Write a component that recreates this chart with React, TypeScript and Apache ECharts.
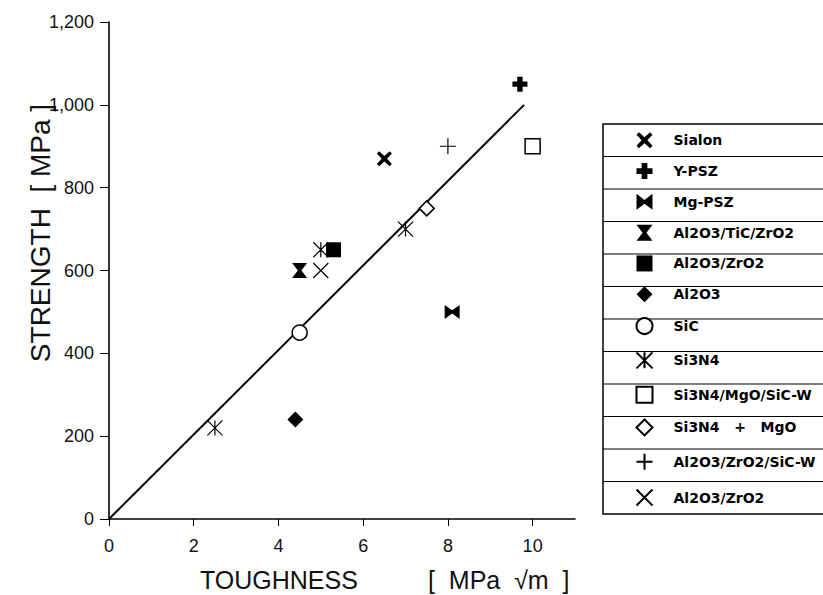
import React, { useEffect, useRef } from "react";
import * as echarts from "echarts";

// ---- data ----
const MATERIALS = [
  "Sialon",
  "Y-PSZ",
  "Mg-PSZ",
  "Al2O3/TiC/ZrO2",
  "Al2O3/ZrO2",
  "Al2O3",
  "SiC",
  "Si3N4",
  "Si3N4/MgO/SiC-W",
  "Si3N4   +   MgO",
  "Al2O3/ZrO2/SiC-W",
  "Al2O3/ZrO2",
];
const TOUGHNESS = [
  [6.5],
  [9.7],
  [8.1],
  [4.5],
  [5.3],
  [4.4],
  [4.5],
  [2.5, 5.0, 7.0],
  [10.0],
  [7.5],
  [8.0],
  [5.0],
];
const STRENGTH = [
  [870],
  [1050],
  [500],
  [600],
  [650],
  [240],
  [450],
  [220, 650, 700],
  [900],
  [750],
  [900],
  [600],
];
const TREND_X = [0, 9.8];
const TREND_Y = [0, 1000];
const X_TICKS = [0, 2, 4, 6, 8, 10];
const Y_TICKS = [0, 200, 400, 600, 800, 1000, 1200];

// ---- marker styles ----
const SYM: { symbol: string; size: number | number[]; fill: string; border: number }[] = [
  { symbol: "path://M15,0 L50,32 L85,0 L100,15 L68,50 L100,85 L85,100 L50,68 L15,100 L0,85 L32,50 L0,15 Z", size: 15, fill: "#000", border: 0 },
  { symbol: "path://M32,0 H68 V32 H100 V68 H68 V100 H32 V68 H0 V32 H32 Z", size: 15, fill: "#000", border: 0 },
  { symbol: "path://M0,0 L50,38 L100,0 L100,100 L50,62 L0,100 Z", size: [15, 14], fill: "#000", border: 0 },
  { symbol: "path://M0,0 H100 L62,50 L100,100 H0 L38,50 Z", size: [15, 15], fill: "#000", border: 0 },
  { symbol: "rect", size: 15, fill: "#000", border: 0 },
  { symbol: "diamond", size: 16, fill: "#000", border: 0 },
  { symbol: "circle", size: 15, fill: "#fff", border: 1.5 },
  { symbol: "path://M0,0 L100,100 M100,0 L0,100 M50,0 L50,100", size: 15, fill: "none", border: 1.2 },
  { symbol: "rect", size: 15, fill: "#fff", border: 1.5 },
  { symbol: "diamond", size: 15, fill: "#fff", border: 1.5 },
  { symbol: "path://M50,0 V100 M0,50 H100", size: 16, fill: "none", border: 1.2 },
  { symbol: "path://M0,0 L100,100 M100,0 L0,100", size: 15, fill: "none", border: 1.2 },
];

const LEG_TOP = 124;
const LEG_ROW = 32.5;
const LEG_ICON = 16;

export default function App() {
  const ref = useRef<HTMLDivElement>(null);
  useEffect(() => {
    if (!ref.current) return;
    const chart = echarts.init(ref.current, undefined, { renderer: "svg" });
    const names = MATERIALS.map((m, i) => (MATERIALS.indexOf(m) !== i ? m + " #" + i : m));

    const scatter = MATERIALS.map((_, i) => ({
      type: "scatter",
      name: names[i],
      symbol: SYM[i].symbol,
      symbolSize: SYM[i].size,
      z: 3,
      itemStyle: {
        color: SYM[i].fill,
        borderColor: "#000",
        borderWidth: SYM[i].border,
        opacity: 1,
      },
      data: TOUGHNESS[i].map((x, j) => [x, STRENGTH[i][j]]),
    }));

    const lines: any[] = [];
    for (let k = 1; k < MATERIALS.length; k++) {
      const y = LEG_TOP + k * LEG_ROW;
      lines.push({ type: "line", shape: { x1: 603, y1: y, x2: 830, y2: y }, style: { stroke: "#000", lineWidth: 1.2 } });
    }

    const titleFont = "'Liberation Sans', Arial";

    chart.setOption({
      animation: false,
      backgroundColor: "#fff",
      grid: { left: 109, top: 22, width: 466, height: 497, containLabel: false },
      xAxis: {
        type: "value",
        min: 0,
        max: 11,
        interval: 1,
        axisLine: { show: true, onZero: false, lineStyle: { color: "#000", width: 1.6 } },
        axisTick: { show: true, length: 7, customValues: X_TICKS, lineStyle: { color: "#000", width: 1 } },
        axisLabel: { customValues: X_TICKS, margin: 18, fontSize: 18, color: "#111", fontFamily: "Liberation Sans, Arial" },
        splitLine: { show: false },
      },
      yAxis: {
        type: "value",
        min: 0,
        max: 1200,
        interval: 200,
        axisLine: { show: true, onZero: false, lineStyle: { color: "#000", width: 1.6 } },
        axisTick: { show: true, length: 9, customValues: Y_TICKS, lineStyle: { color: "#000", width: 1 } },
        axisLabel: {
          customValues: Y_TICKS,
          margin: 15,
          fontSize: 18,
          color: "#111",
          fontFamily: "Liberation Sans, Arial",
          formatter: (v: number) => v.toLocaleString("en-US"),
        },
        splitLine: { show: false },
      },
      legend: {
        data: names,
        orient: "vertical",
        left: 634,
        top: LEG_TOP + LEG_ROW / 2 - LEG_ICON / 2,
        padding: 0,
        itemWidth: LEG_ICON,
        itemHeight: LEG_ICON,
        itemGap: LEG_ROW - LEG_ICON - 1.7,
        selectedMode: false,
        formatter: (n: string) => n.replace(/ #\d+$/, ""),
        textStyle: {
          fontFamily: "DejaVu Sans",
          fontWeight: "bold",
          fontSize: 14,
          lineHeight: LEG_ICON,
          color: "#000",
          padding: [0, 0, 0, 16],
        },
      },
      graphic: [
        {
          type: "rect",
          shape: { x: 603, y: LEG_TOP, width: 240, height: LEG_ROW * MATERIALS.length },
          style: { fill: "none", stroke: "#000", lineWidth: 1.5 },
        },
        ...lines,
        {
          type: "text",
          x: 40,
          y: 233,
          rotation: Math.PI / 2,
          style: {
            text: "STRENGTH  [ MPa ]",
            font: "28px " + titleFont,
            fill: "#111",
            align: "center",
            verticalAlign: "middle",
          },
        },
        {
          type: "text",
          x: 200,
          y: 580,
          style: {
            text: "TOUGHNESS",
            font: "25px " + titleFont,
            fill: "#111",
            align: "left",
            verticalAlign: "middle",
          },
        },
        {
          type: "text",
          x: 428,
          y: 580,
          style: {
            text: "[  MPa  √m  ]",
            font: "25px " + titleFont,
            fill: "#111",
            align: "left",
            verticalAlign: "middle",
          },
        },
      ],
      series: [
        {
          type: "line",
          name: "trend",
          data: TREND_X.map((x, i) => [x, TREND_Y[i]]),
          showSymbol: false,
          symbol: "none",
          z: 2,
          lineStyle: { color: "#000", width: 2 },
          silent: true,
        },
        ...scatter,
      ],
    } as any);
    return () => chart.dispose();
  }, []);
  return <div ref={ref} style={{ position: "fixed", left: 0, top: 0, width: 823, height: 595 }} />;
}
